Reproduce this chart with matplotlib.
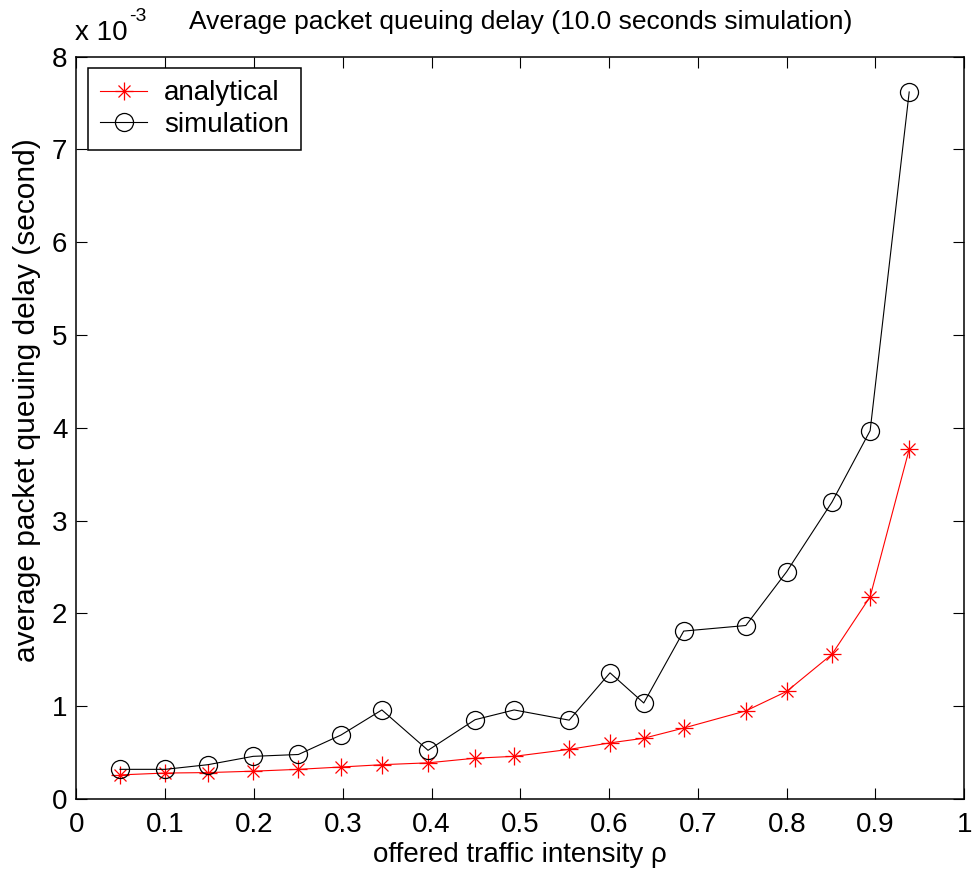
import numpy as np
import matplotlib
matplotlib.use('Agg')
import matplotlib.pyplot as plt
from matplotlib.legend_handler import HandlerTuple

plt.rcParams['font.family'] = ['Liberation Sans', 'DejaVu Sans']

# offered traffic intensity (rho)
rho = [0.049, 0.100, 0.148, 0.199, 0.250, 0.298, 0.344, 0.396, 0.449, 0.493,
       0.555, 0.601, 0.639, 0.684, 0.754, 0.800, 0.851, 0.894, 0.938]
# delays in units of 1e-3 s
analytical = [0.26, 0.28, 0.285, 0.30, 0.32, 0.345, 0.37, 0.39, 0.44, 0.46,
              0.535, 0.605, 0.655, 0.765, 0.95, 1.16, 1.56, 2.18, 3.77]
simulation = [0.32, 0.32, 0.37, 0.46, 0.48, 0.69, 0.96, 0.525, 0.855, 0.96,
              0.85, 1.36, 1.035, 1.81, 1.87, 2.45, 3.20, 3.97, 7.62]

xticks = [0, 0.1, 0.2, 0.3, 0.4, 0.5, 0.6, 0.7, 0.8, 0.9, 1]
xticklabels = ['0', '0.1', '0.2', '0.3', '0.4', '0.5', '0.6', '0.7', '0.8', '0.9', '1']
yticks = [0, 1, 2, 3, 4, 5, 6, 7, 8]

fig = plt.figure(figsize=(9.73, 8.83), dpi=100)
ax = fig.add_axes([0.0786, 0.0951, 0.9124, 0.8407])

# analytical: MATLAB style '*' = '+' overlaid with 'x'
l1, = ax.plot(rho, analytical, color='red', lw=0.8, marker='+', ms=12.5, mew=0.9)
l2, = ax.plot(rho, analytical, color='red', lw=0, marker='x', ms=8.5, mew=0.9)
l3, = ax.plot(rho, simulation, color='black', lw=0.8, marker='o', ms=13,
              mfc='none', mec='black', mew=0.9)

ax.set_xlim(0, 1)
ax.set_ylim(0, 8)
ax.set_xticks(xticks)
ax.set_xticklabels(xticklabels)
ax.set_yticks(yticks)
ax.tick_params(direction='in', length=8, width=0.8, top=True, right=True,
               labelsize=20)
ax.tick_params(axis='x', pad=9)
ax.tick_params(axis='y', pad=6.5)
for s in ax.spines.values():
    s.set_linewidth(1.1)

ax.set_xlabel('offered traffic intensity \u03c1', fontsize=20, labelpad=3)
ax.set_ylabel('average packet queuing delay (second)', fontsize=21.5)
ax.yaxis.set_label_coords(-0.040, 0.538)
ax.set_title('Average packet queuing delay (10.0 seconds simulation)',
             fontsize=19, pad=20)

# exponent label, MATLAB style
fig.text(75 / 973, 1 - 40 / 883, 'x 10', fontsize=20, ha='left', va='baseline')
fig.text(129 / 973, 1 - 21 / 883, '-3', fontsize=14, ha='left', va='baseline')

leg = ax.legend([(l1, l2), l3], ['analytical', 'simulation'],
                handler_map={tuple: HandlerTuple(ndivide=1)},
                loc='upper left', fontsize=20, fancybox=False,
                edgecolor='black', framealpha=1, borderaxespad=0.4,
                handlelength=1.7, handletextpad=0.6, labelspacing=0.2,
                borderpad=0.45)
leg.get_frame().set_linewidth(1.1)

fig.savefig('out.png', dpi=100)
